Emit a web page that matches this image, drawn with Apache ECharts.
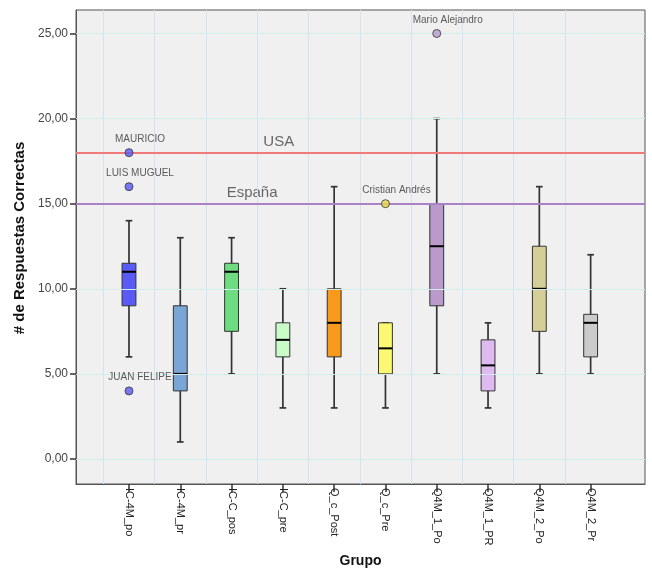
<!DOCTYPE html>
<html>
<head>
<meta charset="utf-8">
<script src="https://cdn.jsdelivr.net/npm/echarts@6/dist/echarts.min.js"></script>
<style>html,body{margin:0;padding:0;background:#fff;}#c{width:652px;height:573px;}</style>
</head>
<body>
<div id="c"></div>
<script>
const categories = ['IC-4M_po','IC-4M_pr','IC-C_pos','IC-C_pre','Q_c_Post','Q_c_Pre','Q4M_1_Po','Q4M_1_PR','Q4M_2_Po','Q4M_2_Pr'];
const whiskerLow  = [6, 1, 5,   3, 3,  3,   5,    3,   5,    5];
const q1          = [9, 4, 7.5, 6, 6,  5,   9,    4,   7.5,  6];
const median      = [11,5, 11,  7, 8,  6.5, 12.5, 5.5, 10,   8];
const q3          = [11.5,9,11.5,8,10, 8,   15,   7,   12.5, 8.5];
const whiskerHigh = [14,13,13,  10,16, 8,   20,   8,   16,   12];
const boxColors = ['#5a5af7','#79a6d4','#6fdc82','#c9fcc8','#f99a1c','#fbf873','#b99acb','#dfbaf0','#d4cf99','#cbcbcb'];

const outlierGroup = [0, 0, 0, 5, 6];
const outlierValue = [18, 16, 4, 15, 25];
const outlierName  = ['MAURICIO','LUIS MUGUEL','JUAN FELIPE','Cristian Andrés','Mario Alejandro'];

const refValues = [18, 15];
const refNames  = ['USA', 'España'];
const refColors = ['#f07a7a', '#a981c4'];
const refLabelX = [2.92, 2.4];

const yTicks = [0, 5, 10, 15, 20, 25];

const fmt = v => v.toFixed(2).replace('.', ',');
const FONT = 'Liberation Sans, Arial, sans-serif';

const boxData = categories.map((c, i) => [i, whiskerLow[i], q1[i], median[i], q3[i], whiskerHigh[i]]);

const chart = echarts.init(document.getElementById('c'), null, {renderer: 'canvas'});

const option = {
  animation: false,
  backgroundColor: '#ffffff',
  grid: {left: 76, top: 10, right: 7, bottom: 88, show: true, backgroundColor: '#f0f0f0', borderColor: '#555', borderWidth: 1},
  xAxis: {
    type: 'value', min: -1.033, max: 10.06,
    name: 'Grupo', nameLocation: 'middle', nameGap: 70,
    nameTextStyle: {fontFamily: FONT, fontSize: 14, fontWeight: 'bold', color: '#111'},
    axisLine: {show: true, onZero: false, lineStyle: {color: '#555'}},
    axisTick: {show: true, length: 8, customValues: categories.map((c, i) => i), lineStyle: {color: '#333', width: 1.5}},
    axisLabel: {customValues: categories.map((c, i) => i), rotate: -90, margin: 4, fontFamily: FONT, fontSize: 11, color: '#222',
      formatter: v => categories[Math.round(v)] || ''},
    splitLine: {show: false}
  },
  yAxis: {
    type: 'value', min: -1.47, max: 26.38,
    name: '# de Respuestas Correctas', nameLocation: 'middle', nameGap: 43,
    nameTextStyle: {fontFamily: FONT, fontSize: 15, fontWeight: 'bold', color: '#111', padding: [0, 0, 0, 18]},
    axisLine: {show: true, onZero: false, lineStyle: {color: '#555'}},
    axisTick: {show: true, length: 6, customValues: yTicks, lineStyle: {color: '#333', width: 1.5}},
    axisLabel: {customValues: yTicks, margin: 8, fontFamily: FONT, fontSize: 12, color: '#444', formatter: v => fmt(v)},
    splitLine: {show: false}
  },
  series: [
    {
      type: 'line', data: [], z: 1, silent: true,
      markLine: {
        silent: true, symbol: 'none', animation: false,
        label: {show: false},
        data: categories.map((c, i) => ({xAxis: i - 0.5, lineStyle: {color: '#d2e3f2', width: 1, type: 'solid'}}))
          .concat(yTicks.map(t => ({yAxis: t, lineStyle: {color: '#d0ebec', width: 1, type: 'solid'}})))
      }
    },
    {
      type: 'line', data: [], z: 2, silent: true,
      markLine: {
        silent: true, symbol: 'none', animation: false,
        label: {show: false},
        data: refValues.map((v, i) => ({yAxis: v, lineStyle: {color: refColors[i], width: 2, type: 'solid'}}))
      }
    },
    {
      type: 'scatter', z: 3, silent: true, symbolSize: 0,
      data: refValues.map((v, i) => ({value: [refLabelX[i], v + 0.62], label: {formatter: refNames[i]}})),
      label: {show: true, position: 'inside', fontFamily: FONT, fontSize: 15, color: '#444'}
    },
    {
      type: 'custom', z: 4,
      data: boxData,
      renderItem: function (params, api) {
        const i = api.value(0);
        const slot = api.size([1, 0])[0];
        const hw = slot * 0.135, cw = slot * 0.065;
        const pLow = api.coord([i, api.value(1)]);
        const pQ1 = api.coord([i, api.value(2)]);
        const pMed = api.coord([i, api.value(3)]);
        const pQ3 = api.coord([i, api.value(4)]);
        const pHigh = api.coord([i, api.value(5)]);
        const x = pQ1[0];
        const ws = {stroke: '#333', lineWidth: 1.7};
        return {
          type: 'group',
          children: [
            {type: 'line', shape: {x1: x, y1: pLow[1], x2: x, y2: pHigh[1]}, style: ws},
            {type: 'line', shape: {x1: x - cw, y1: pLow[1], x2: x + cw, y2: pLow[1]}, style: ws},
            {type: 'line', shape: {x1: x - cw, y1: pHigh[1], x2: x + cw, y2: pHigh[1]}, style: ws},
            {type: 'rect', shape: {x: x - hw, y: pQ3[1], width: hw * 2, height: pQ1[1] - pQ3[1]},
              style: {fill: boxColors[params.dataIndex], stroke: '#333', lineWidth: 1}},
            {type: 'line', shape: {x1: x - hw, y1: pMed[1], x2: x + hw, y2: pMed[1]}, style: {stroke: '#000', lineWidth: 2}}
          ]
        };
      }
    },
    {
      type: 'scatter', z: 5, silent: true, symbol: 'circle', symbolSize: 8,
      data: outlierGroup.map((g, k) => ({
        value: [g, outlierValue[k]],
        itemStyle: {color: boxColors[g] === '#fbf873' ? '#e8d84a' : boxColors[g]},
        label: {formatter: outlierName[k]}
      })),
      itemStyle: {borderColor: '#333', borderWidth: 1},
      label: {show: true, position: 'top', distance: 4, offset: [11, 0], fontFamily: FONT, fontSize: 10, color: '#333'}
    }
  ]
};
chart.setOption(option);
</script>
</body>
</html>
